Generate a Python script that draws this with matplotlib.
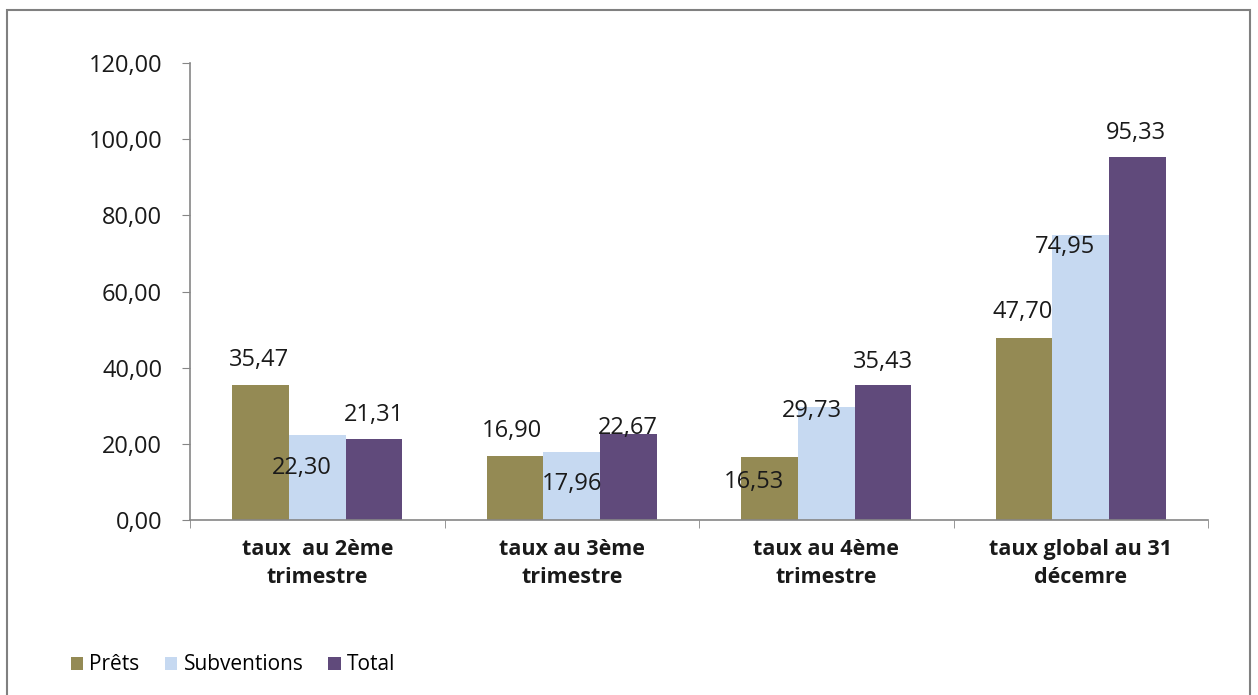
import matplotlib
matplotlib.use("Agg")
import matplotlib.pyplot as plt
from matplotlib.patches import Rectangle, Patch
import numpy as np

categories = ["taux  au 2ème\ntrimestre", "taux au 3ème\ntrimestre",
              "taux au 4ème\ntrimestre", "taux global au 31\ndécemre"]
series_names = ["Prêts", "Subventions", "Total"]
prets = [35.47, 16.90, 16.53, 47.70]
subventions = [22.30, 17.96, 29.73, 74.95]
total = [21.31, 22.67, 35.43, 95.33]
yticks = [0, 20, 40, 60, 80, 100, 120]

colors = ["#948A54", "#C6D9F1", "#604A7B"]
# label offsets in pixels (dx, dy) relative to bar top centre
offsets = [
    [(-2, 25), (-3, 25), (-16, -25), (-2, 26)],
    [(-15, -33), (0, -32), (-14, -4), (-16, -12)],
    [(0, 24), (0, 6), (0, 23), (-1, 24)],
]

fig = plt.figure(figsize=(12.58, 6.95), dpi=100)
fig.patches.append(Rectangle((7/1258, -0.01), 1243/1258, 1 - 10/695 + 0.01,
                             transform=fig.transFigure, fill=False,
                             edgecolor="#808080", linewidth=1.5))
ax = fig.add_axes([190/1258, 1 - 520/695, 1018/1258, 457/695])

font = "Open Sans"
x = np.arange(len(categories))
w = 1 / 4.5
data = [prets, subventions, total]
for i, (vals, c) in enumerate(zip(data, colors)):
    xs = x + (i - 1) * w
    ax.bar(xs, vals, width=w, color=c, label=series_names[i], zorder=2)
    for j, v in enumerate(vals):
        dx, dy = offsets[i][j]
        ax.annotate(f"{v:.2f}".replace(".", ","), (xs[j], v),
                    xytext=(dx, dy), textcoords="offset pixels",
                    ha="center", va="center", fontsize=17,
                    family=font, color="#1a1a1a", zorder=3)

ax.set_xlim(-0.5, len(categories) - 0.5)
ax.set_ylim(0, 120)
ax.set_yticks(yticks)
ax.set_yticklabels([f"{t:.2f}".replace(".", ",") for t in yticks],
                   family=font, fontsize=17, color="#1a1a1a")
ax.set_xticks(x)
ax.set_xticklabels(categories, family=font, fontsize=15.5,
                   fontweight="bold", color="#1a1a1a", linespacing=1.4)
ax.tick_params(axis="x", length=0, pad=14)
ax.set_xticks(np.arange(-0.5, len(categories)), minor=True)
ax.tick_params(axis="x", which="minor", length=6, color="#868686",
               direction="out")
ax.tick_params(axis="y", length=6, color="#868686", pad=14)
for s in ["top", "right"]:
    ax.spines[s].set_visible(False)
for s in ["left", "bottom"]:
    ax.spines[s].set_color("#868686")
    ax.spines[s].set_linewidth(1.2)

handles = [Patch(facecolor=c, edgecolor="none") for c in colors]
fig.legend(handles, series_names, loc="center left",
           bbox_to_anchor=(52/1258, 1 - 665/695), ncol=3, frameon=False,
           prop={"family": font, "size": 15}, handlelength=0.6,
           handleheight=0.6, handletextpad=0.3, columnspacing=1.2)

fig.savefig("out.png", dpi=100)
